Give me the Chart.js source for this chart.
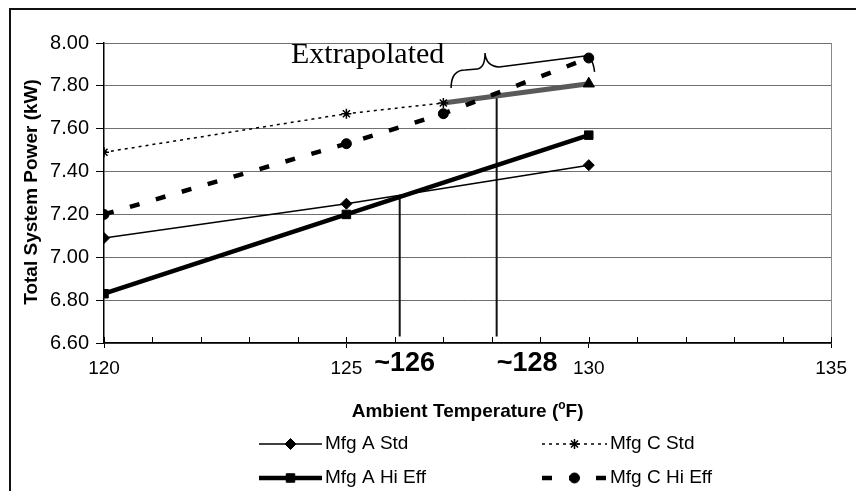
<!DOCTYPE html>
<html>
<head>
<meta charset="utf-8">
<script src="https://cdn.jsdelivr.net/npm/chart.js@4.4.1/dist/chart.umd.min.js"></script>
<style>
  html, body { margin: 0; padding: 0; background: #fff; overflow: hidden; }
  canvas { display: block; }
</style>
</head>
<body>
<canvas id="chart" width="856" height="491"></canvas>
<script>
// Ambient temperature (°F) and total system power (kW) per unit
const temps = [120, 125, 130];
const mfgAStd = [7.09, 7.25, 7.43];
const mfgAHiEff = [6.83, 7.20, 7.57];
const mfgCStdTemps = [120, 125, 127];
const mfgCStd = [7.49, 7.67, 7.72];
const mfgCHiEffTemps = [120, 125, 127, 130];
const mfgCHiEff = [7.20, 7.53, 7.67, 7.93];
// Extrapolated Mfg C Std segment
const extrapTemps = [127, 130];
const extrapPower = [7.72, 7.81];
// Crossover markers
const crossTemps = [126.1, 128.1];
const crossTop = [7.29, 7.77];
const crossBottom = 6.63;
const crossLabels = ['~126', '~128'];

const xMin = 120, xMax = 135, xStep = 5;
const yMin = 6.6, yMax = 8.0, yStep = 0.2;

const FONT = "'Liberation Sans', Arial, Helvetica, sans-serif";
const pts = (xs, ys) => xs.map((x, i) => ({ x, y: ys[i] }));

const seriesStyle = {
  'Mfg A Std':    { borderWidth: 1.5, borderDash: [], pointStyle: 'rectRot', pointRadius: 5.5 },
  'Mfg A Hi Eff': { borderWidth: 4.5, borderDash: [], pointStyle: 'rect', pointRadius: 6 },
  'Mfg C Std':    { borderWidth: 1.5, borderDash: [3, 4], pointStyle: 'star', pointRadius: 5 },
  'Mfg C Hi Eff': { borderWidth: 4.5, borderDash: [10, 17], pointStyle: 'circle', pointRadius: 5 }
};

function series(label, xs, ys) {
  const s = seriesStyle[label];
  return {
    label, data: pts(xs, ys),
    borderColor: '#000', backgroundColor: '#000',
    pointBackgroundColor: '#000', pointBorderColor: '#000',
    pointBorderWidth: s.pointStyle === 'star' ? 1.5 : 1,
    borderWidth: s.borderWidth, borderDash: s.borderDash,
    pointStyle: s.pointStyle, pointRadius: s.pointRadius, pointHoverRadius: s.pointRadius,
    showLine: true, tension: 0
  };
}

const datasets = [
  series('Mfg A Std', temps, mfgAStd),
  series('Mfg A Hi Eff', temps, mfgAHiEff),
  series('Mfg C Std', mfgCStdTemps, mfgCStd),
  series('Mfg C Hi Eff', mfgCHiEffTemps, mfgCHiEff),
  {
    label: 'Extrapolated', data: pts(extrapTemps, extrapPower),
    borderColor: '#5a5a5a', borderWidth: 5, showLine: true,
    pointStyle: 'triangle', pointRadius: [0, 6.5], pointBackgroundColor: '#000',
    pointBorderColor: '#000', pointBorderWidth: 1
  }
];
crossTemps.forEach((t, i) => {
  datasets.push({
    label: crossLabels[i], data: [{ x: t, y: crossBottom }, { x: t, y: crossTop[i] }],
    borderColor: '#111', borderWidth: 2, showLine: true, pointRadius: 0
  });
});

const legendOrder = [
  ['Mfg A Std', 0, 0], ['Mfg C Std', 1, 0],
  ['Mfg A Hi Eff', 0, 1], ['Mfg C Hi Eff', 1, 1]
];

const decorations = {
  id: 'decorations',
  afterDraw(chart) {
    const { ctx, chartArea: a, scales: { x, y } } = chart;
    const px = v => x.getPixelForValue(v);
    const py = v => y.getPixelForValue(v);
    ctx.save();

    // outer frame
    ctx.strokeStyle = '#111';
    ctx.lineWidth = 2;
    ctx.beginPath();
    ctx.moveTo(10, 500); ctx.lineTo(10, 9); ctx.lineTo(900, 9);
    ctx.stroke();

    // right plot border
    ctx.strokeStyle = '#888';
    ctx.lineWidth = 1;
    ctx.beginPath();
    ctx.moveTo(Math.round(a.right) + 0.5, a.top);
    ctx.lineTo(Math.round(a.right) + 0.5, a.bottom);
    ctx.stroke();

    // inner tick marks on the x axis, one per degree
    ctx.strokeStyle = '#000';
    ctx.lineWidth = 1;
    for (let v = xMin; v <= xMax; v++) {
      const xx = Math.round(px(v)) + 0.5;
      ctx.beginPath();
      ctx.moveTo(xx, a.bottom - 6);
      ctx.lineTo(xx, a.bottom);
      ctx.stroke();
    }

    // crossover labels
    ctx.fillStyle = '#000';
    ctx.font = `bold 27px ${FONT}`;
    ctx.textBaseline = 'alphabetic';
    ctx.textAlign = 'center';
    ctx.fillText(crossLabels[0], px(crossTemps[0]) + 5, a.bottom + 28);
    ctx.textAlign = 'left';
    ctx.fillText(crossLabels[1], px(crossTemps[1]), a.bottom + 28);

    // "Extrapolated" note with brace over the extrapolated span
    ctx.font = `30px 'Liberation Serif', 'Times New Roman', serif`;
    ctx.textAlign = 'right';
    ctx.fillText('Extrapolated', px(127.02), py(7.908));

    ctx.strokeStyle = '#000';
    ctx.lineWidth = 1.5;
    ctx.beginPath();
    ctx.moveTo(px(127.16), py(7.79));
    ctx.quadraticCurveTo(px(127.16), py(7.874), px(127.45), py(7.874));
    ctx.lineTo(px(127.70), py(7.879));
    ctx.quadraticCurveTo(px(127.86), py(7.883), px(127.86), py(7.953));
    ctx.quadraticCurveTo(px(127.88), py(7.893), px(128.15), py(7.888));
    ctx.lineTo(px(129.92), py(7.939));
    ctx.quadraticCurveTo(px(130.08), py(7.939), px(130.12), py(7.865));
    ctx.stroke();

    // axis titles
    ctx.fillStyle = '#000';
    ctx.font = `bold 19px ${FONT}`;
    ctx.textBaseline = 'middle';
    ctx.save();
    ctx.translate(32, (a.top + a.bottom) / 2 - 1);
    ctx.rotate(-Math.PI / 2);
    ctx.textAlign = 'center';
    ctx.fillText('Total System Power (kW)', 0, 0);
    ctx.restore();

    const p1 = 'Ambient Temperature (', p2 = 'o', p3 = 'F)';
    const bigFont = `bold 19px ${FONT}`, supFont = `bold 12px ${FONT}`;
    ctx.font = bigFont; const w1 = ctx.measureText(p1).width, w3 = ctx.measureText(p3).width;
    ctx.font = supFont; const w2 = ctx.measureText(p2).width;
    let tx = (a.left + a.right) / 2 - (w1 + w2 + w3) / 2;
    const ty = 412;
    ctx.textAlign = 'left';
    ctx.font = bigFont; ctx.fillText(p1, tx, ty); tx += w1;
    ctx.font = supFont; ctx.fillText(p2, tx, ty - 6); tx += w2;
    ctx.font = bigFont; ctx.fillText(p3, tx, ty);

    // legend
    const colLine = [[259, 322], [542, 607]];
    const rowY = [444, 478];
    ctx.font = `19px ${FONT}`;
    legendOrder.forEach(([name, col, row]) => {
      const ds = chart.data.datasets.find(d => d.label === name);
      const [x0, x1] = colLine[col];
      const yy = rowY[row];
      ctx.save();
      ctx.strokeStyle = '#000';
      ctx.lineWidth = ds.borderWidth;
      ctx.setLineDash(ds.borderDash || []);
      ctx.beginPath();
      ctx.moveTo(x0, yy); ctx.lineTo(x1, yy);
      ctx.stroke();
      ctx.setLineDash([]);
      ctx.fillStyle = '#000';
      ctx.lineWidth = ds.pointBorderWidth;
      Chart.helpers.drawPoint(ctx, {
        pointStyle: ds.pointStyle, radius: ds.pointRadius, rotation: 0, borderWidth: ds.pointBorderWidth
      }, (x0 + x1) / 2, yy);
      ctx.restore();
      ctx.fillStyle = '#000';
      ctx.textBaseline = 'middle';
      ctx.textAlign = 'left';
      ctx.fillText(name, x1 + 3, yy);
    });

    ctx.restore();
  }
};

new Chart(document.getElementById('chart'), {
  type: 'scatter',
  data: { datasets },
  options: {
    responsive: false,
    devicePixelRatio: 1,
    animation: false,
    layout: { padding: { top: 43, right: 23, left: 0, bottom: 0 } },
    plugins: { legend: { display: false }, tooltip: { enabled: false }, title: { display: false } },
    scales: {
      x: {
        type: 'linear', min: xMin, max: xMax,
        afterFit: s => { s.height = 148; },
        ticks: { stepSize: xStep, color: '#000', font: { family: FONT, size: 19 }, padding: 9, maxRotation: 0 },
        grid: { drawOnChartArea: false, drawTicks: true, tickLength: 5, tickColor: '#000', tickWidth: 1 },
        border: { color: '#000', width: 1.5 }
      },
      y: {
        type: 'linear', min: yMin, max: yMax,
        afterFit: s => { s.width = 104; },
        ticks: { stepSize: yStep, color: '#000', font: { family: FONT, size: 20 }, padding: 7,
                 callback: v => Number(v).toFixed(2) },
        grid: { color: '#6f6f6f', lineWidth: 1, tickLength: 8, tickColor: '#000' },
        border: { color: '#000', width: 1.5 }
      }
    }
  },
  plugins: [decorations]
});
</script>
</body>
</html>
